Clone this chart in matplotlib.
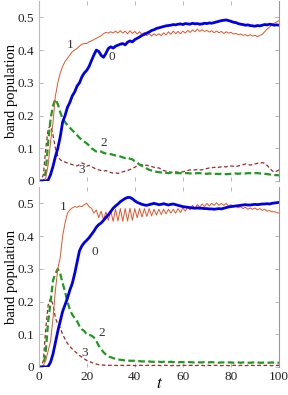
import numpy as np
import matplotlib
matplotlib.use('Agg')
import matplotlib.pyplot as plt

plt.rcParams['font.family'] = ['Liberation Serif', 'DejaVu Serif']
plt.rcParams['mathtext.fontset'] = 'stix'

t = np.arange(0, 101)

# top panel
top0 = [0, 0, 0, 0, 0.003, 0.02, 0.045, 0.075, 0.10, 0.135,
        0.18, 0.20, 0.225, 0.24, 0.26, 0.272, 0.29, 0.30, 0.318, 0.33,
        0.338, 0.35, 0.368, 0.385, 0.40, 0.396, 0.384, 0.378, 0.39, 0.405,
        0.41, 0.406, 0.412, 0.415, 0.418, 0.42, 0.416, 0.424, 0.428, 0.425,
        0.432, 0.436, 0.44, 0.445, 0.448, 0.452, 0.455, 0.46, 0.462, 0.466,
        0.468, 0.47, 0.472, 0.474, 0.475, 0.476, 0.478, 0.477, 0.479, 0.48,
        0.478, 0.481, 0.48, 0.479, 0.482, 0.48, 0.481, 0.479, 0.48, 0.482,
        0.481, 0.483, 0.482, 0.484, 0.486, 0.488, 0.49, 0.491, 0.492, 0.49,
        0.488, 0.485, 0.484, 0.481, 0.479, 0.478, 0.476, 0.477, 0.475, 0.474,
        0.473, 0.475, 0.474, 0.476, 0.478, 0.477, 0.479, 0.478, 0.476, 0.477,
        0.476]
top1 = [0, 0, 0, 0.01, 0.05, 0.12, 0.18, 0.26, 0.30, 0.33,
        0.35, 0.365, 0.375, 0.385, 0.395, 0.40, 0.405, 0.412, 0.418, 0.42,
        0.42, 0.425, 0.428, 0.432, 0.436, 0.44, 0.444, 0.45, 0.454, 0.452,
        0.456, 0.452, 0.458, 0.452, 0.459, 0.452, 0.458, 0.45, 0.459, 0.451,
        0.457, 0.449, 0.456, 0.448, 0.454, 0.444, 0.45, 0.443, 0.45, 0.444,
        0.45, 0.444, 0.453, 0.446, 0.456, 0.448, 0.458, 0.45, 0.457, 0.45,
        0.458, 0.452, 0.46, 0.454, 0.462, 0.456, 0.464, 0.457, 0.462, 0.457,
        0.46, 0.455, 0.459, 0.453, 0.458, 0.453, 0.457, 0.451, 0.456, 0.452,
        0.454, 0.449, 0.451, 0.447, 0.449, 0.445, 0.447, 0.443, 0.447, 0.443,
        0.445, 0.441, 0.445, 0.448, 0.456, 0.464, 0.47, 0.476, 0.482, 0.486,
        0.49]
top2 = [0, 0, 0, 0.03, 0.12, 0.19, 0.23, 0.25, 0.235, 0.21,
        0.19, 0.18, 0.17, 0.163, 0.155, 0.148, 0.14, 0.132, 0.125, 0.12,
        0.115, 0.108, 0.1, 0.095, 0.09, 0.088, 0.09, 0.086, 0.084, 0.083,
        0.082, 0.08, 0.078, 0.077, 0.075, 0.072, 0.07, 0.072, 0.068, 0.066,
        0.06, 0.056, 0.05, 0.046, 0.042, 0.038, 0.034, 0.032, 0.03, 0.028,
        0.027, 0.026, 0.026, 0.025, 0.024, 0.026, 0.025, 0.024, 0.024, 0.024,
        0.023, 0.024, 0.024, 0.023, 0.024, 0.023, 0.024, 0.024, 0.023, 0.022,
        0.022, 0.023, 0.022, 0.021, 0.022, 0.021, 0.022, 0.021, 0.021, 0.021,
        0.022, 0.022, 0.023, 0.022, 0.023, 0.022, 0.023, 0.024, 0.024, 0.023,
        0.024, 0.024, 0.023, 0.024, 0.022, 0.021, 0.02, 0.019, 0.018, 0.018,
        0.017]
top3 = [0, 0, 0.02, 0.1, 0.16, 0.17, 0.14, 0.1, 0.075, 0.065,
        0.06, 0.058, 0.055, 0.052, 0.05, 0.048, 0.046, 0.05, 0.055, 0.052,
        0.045, 0.048, 0.044, 0.04, 0.036, 0.034, 0.032, 0.03, 0.032, 0.028,
        0.026, 0.024, 0.025, 0.023, 0.026, 0.028, 0.03, 0.032, 0.035, 0.038,
        0.042, 0.046, 0.048, 0.05, 0.049, 0.048, 0.046, 0.044, 0.042, 0.04,
        0.04, 0.036, 0.032, 0.03, 0.028, 0.026, 0.027, 0.028, 0.027, 0.027,
        0.028, 0.03, 0.032, 0.034, 0.033, 0.034, 0.035, 0.034, 0.034, 0.036,
        0.038, 0.04, 0.04, 0.042, 0.04, 0.042, 0.043, 0.044, 0.043, 0.045,
        0.046, 0.045, 0.044, 0.046, 0.048, 0.05, 0.052, 0.05, 0.049, 0.05,
        0.052, 0.054, 0.055, 0.056, 0.054, 0.048, 0.04, 0.032, 0.027, 0.03,
        0.034]

# bottom panel
bot0 = [0, 0, 0, 0, 0.002, 0.015, 0.04, 0.075, 0.11, 0.14,
        0.17, 0.19, 0.21, 0.235, 0.255, 0.285, 0.32, 0.355, 0.37, 0.38,
        0.387, 0.395, 0.405, 0.415, 0.427, 0.435, 0.44, 0.448, 0.457, 0.465,
        0.475, 0.485, 0.492, 0.498, 0.505, 0.51, 0.515, 0.518, 0.518, 0.514,
        0.508, 0.503, 0.5, 0.497, 0.495, 0.494, 0.496, 0.498, 0.5, 0.498,
        0.496, 0.497, 0.499, 0.497, 0.495, 0.497, 0.498, 0.496, 0.494, 0.492,
        0.49, 0.489, 0.488, 0.487, 0.486, 0.485, 0.486, 0.485, 0.485, 0.484,
        0.484, 0.483, 0.483, 0.482, 0.483, 0.484, 0.483, 0.485, 0.487, 0.489,
        0.49, 0.491, 0.492, 0.493, 0.494, 0.495, 0.496, 0.495, 0.495, 0.496,
        0.497, 0.496, 0.497, 0.498, 0.498, 0.499, 0.498, 0.5, 0.501, 0.502,
        0.503]
bot1 = [0, 0, 0.005, 0.02, 0.05, 0.08, 0.15, 0.235, 0.30, 0.335,
        0.40, 0.44, 0.47, 0.48, 0.486, 0.49, 0.488, 0.492, 0.49, 0.496,
        0.50, 0.49, 0.485, 0.47, 0.48, 0.456, 0.476, 0.45, 0.474, 0.448,
        0.478, 0.445, 0.482, 0.446, 0.484, 0.445, 0.484, 0.446, 0.485, 0.448,
        0.484, 0.456, 0.484, 0.458, 0.484, 0.46, 0.484, 0.462, 0.482, 0.464,
        0.482, 0.466, 0.482, 0.468, 0.482, 0.47, 0.482, 0.47, 0.484, 0.472,
        0.486, 0.476, 0.49, 0.48, 0.494, 0.484, 0.496, 0.488, 0.498, 0.49,
        0.5, 0.492, 0.5, 0.494, 0.502, 0.494, 0.5, 0.494, 0.5, 0.492,
        0.496, 0.49, 0.492, 0.486, 0.49, 0.484, 0.488, 0.482, 0.486, 0.482,
        0.486, 0.48, 0.484, 0.478, 0.482, 0.476, 0.478, 0.474, 0.475, 0.472,
        0.47]
bot2 = [0, 0, 0, 0.05, 0.14, 0.2, 0.265, 0.285, 0.30, 0.285,
        0.256, 0.23, 0.2, 0.175, 0.16, 0.15, 0.14, 0.125, 0.115, 0.11,
        0.1, 0.098, 0.096, 0.09, 0.08, 0.065, 0.055, 0.045, 0.038, 0.032,
        0.03, 0.027, 0.025, 0.023, 0.022, 0.021, 0.02, 0.02, 0.019, 0.019,
        0.019, 0.018, 0.018, 0.017, 0.017, 0.016, 0.017, 0.016, 0.016, 0.016,
        0.016, 0.015, 0.016, 0.015, 0.015, 0.016, 0.015, 0.015, 0.014, 0.015,
        0.015, 0.014, 0.015, 0.015, 0.014, 0.014, 0.015, 0.014, 0.014, 0.015,
        0.014, 0.014, 0.015, 0.014, 0.014, 0.013, 0.014, 0.014, 0.013, 0.014,
        0.014, 0.013, 0.014, 0.014, 0.013, 0.014, 0.014, 0.013, 0.013, 0.014,
        0.013, 0.014, 0.013, 0.013, 0.014, 0.013, 0.013, 0.014, 0.013, 0.013,
        0.013]
bot3 = [0, 0, 0.02, 0.12, 0.19, 0.21, 0.19, 0.15, 0.13, 0.12,
        0.1, 0.085, 0.072, 0.063, 0.055, 0.048, 0.042, 0.035, 0.03, 0.025,
        0.02, 0.017, 0.014, 0.011, 0.009, 0.007, 0.006, 0.006, 0.005, 0.005,
        0.005, 0.005, 0.005, 0.004, 0.005, 0.005, 0.004, 0.005, 0.005, 0.005,
        0.004, 0.005, 0.005, 0.005, 0.004, 0.005, 0.005, 0.004, 0.005, 0.005,
        0.005, 0.004, 0.005, 0.005, 0.005, 0.004, 0.005, 0.005, 0.004, 0.005,
        0.005, 0.005, 0.004, 0.005, 0.005, 0.004, 0.005, 0.005, 0.005, 0.004,
        0.005, 0.005, 0.004, 0.005, 0.005, 0.005, 0.004, 0.005, 0.005, 0.004,
        0.005, 0.005, 0.005, 0.004, 0.005, 0.005, 0.004, 0.005, 0.005, 0.005,
        0.004, 0.005, 0.005, 0.004, 0.005, 0.005, 0.005, 0.004, 0.005, 0.005,
        0.005]

top_labels = [('0', 30.5, 0.378), ('1', 13, 0.415), ('2', 27, 0.116), ('3', 18, 0.034)]
bot_labels = [('0', 23.4, 0.35), ('1', 10.2, 0.49), ('2', 26.4, 0.104), ('3', 19.3, 0.043)]

yticks = [0, 0.1, 0.2, 0.3, 0.4, 0.5]
yticklabels = ['0', '0.1', '0.2', '0.3', '0.4', '0.5']
xticks = [0, 20, 40, 60, 80, 100]

c_blue = '#0000e6'
c_orange = '#e2552a'
c_green = '#1f991f'
c_red = '#9c2a2a'

fig = plt.figure(figsize=(2.88, 3.95), dpi=100)
ax1 = fig.add_axes([0.134, 0.5418, 0.835, 0.4557])
ax2 = fig.add_axes([0.134, 0.0709, 0.835, 0.4557])

for ax, s0, s1, s2, s3, labs in [(ax1, top0, top1, top2, top3, top_labels),
                                 (ax2, bot0, bot1, bot2, bot3, bot_labels)]:
    ax.plot(t, s3, color=c_red, lw=0.9, dashes=(3, 2))
    ax.plot(t, s2, color=c_green, lw=1.6, dashes=(3, 1.5))
    ax.plot(t, s1, color=c_orange, lw=0.7)
    ax.plot(t, s0, color=c_blue, lw=2.0)
    for txt, x, y in labs:
        ax.text(x, y, txt, fontsize=9.5, color='#333333', ha='center', va='center')
    ax.set_xlim(0, 100)
    ax.set_ylim(0, 0.55)
    ax.set_yticks(yticks)
    ax.set_yticklabels(yticklabels)
    ax.set_xticks(xticks)
    ax.tick_params(direction='in', length=3, width=0.6, color='#aaaaaa',
                   top=True, right=True, labelsize=9.5, labelcolor='#222222', pad=3)
    ax.spines['top'].set_visible(False)
    ax.spines['bottom'].set_visible(False)
    ax.spines['left'].set_color('#bbbbbb')
    ax.spines['right'].set_color('#999999')
    ax.spines['left'].set_linewidth(0.8)
    ax.spines['right'].set_linewidth(0.8)
    ax.set_ylabel('band population', fontsize=10.5)
    ax.yaxis.set_label_coords(-0.085, 0.5)

ax1.tick_params(labelbottom=False)
fig.text(0.553, 0.028, '$t$', fontsize=12, ha='center', va='center')

fig.savefig('out.png', dpi=100)
